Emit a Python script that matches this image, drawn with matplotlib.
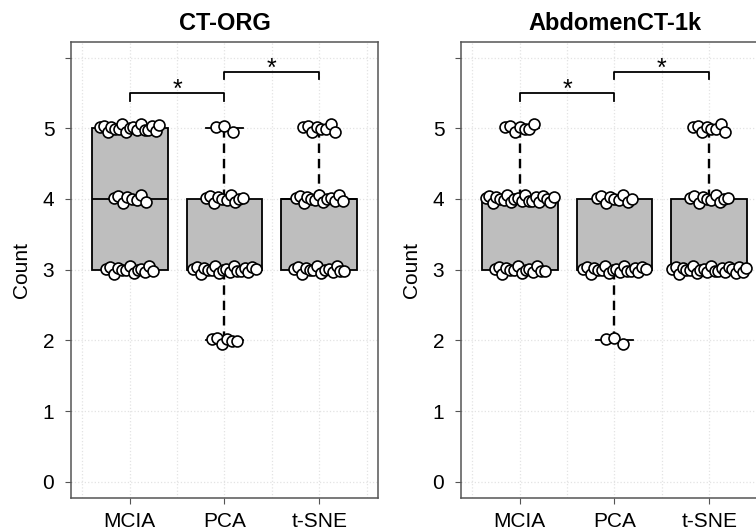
import numpy as np
import matplotlib
matplotlib.use("Agg")
import matplotlib.pyplot as plt

plt.rcParams['font.family'] = ['Liberation Sans', 'DejaVu Sans']

methods = ['MCIA', 'PCA', 't-SNE']
levels = [2, 3, 4, 5]

# number of cases at each count level (2, 3, 4, 5), per method
ctorg_counts = {
    'MCIA': [0, 13, 8, 17],
    'PCA': [6, 18, 10, 3],
    't-SNE': [0, 14, 13, 8],
}
abdomen_counts = {
    'MCIA': [0, 14, 20, 7],
    'PCA': [3, 18, 9, 0],
    't-SNE': [0, 22, 10, 8],
}
# significance brackets: (from, to, height)
brackets = [(1, 2, 5.5), (2, 3, 5.8)]


def expand(counts):
    return np.repeat(levels, counts).astype(float)


def draw_panel(ax, counts, title):
    data = [expand(counts[m]) for m in methods]
    pos = np.arange(1, len(methods) + 1)
    ax.boxplot(data, positions=pos, widths=0.8, patch_artist=True,
               showfliers=False, whis=1.5,
               boxprops=dict(facecolor='#bebebe', edgecolor='black', linewidth=1.3),
               medianprops=dict(color='black', linewidth=1.3),
               whiskerprops=dict(color='black', linewidth=1.7, linestyle=(0, (4, 2.5))),
               capprops=dict(color='black', linewidth=1.3),
               capwidths=0.4, zorder=2)

    # beeswarm-like spread of points around each level
    for p, m in zip(pos, methods):
        for lev, n in zip(levels, counts[m]):
            if n == 0:
                continue
            half = min(0.46, 0.016 * n + 0.04)
            dx = np.linspace(-half, half, n)
            idx = np.arange(n)
            dy = 0.045 * np.sin(idx * 2.4) + 0.015 * np.cos(idx * 5.1)
            ax.scatter(p + dx, lev + dy, s=62, facecolor='white',
                       edgecolor='black', linewidth=1.2, zorder=3)

    for a, b, h in brackets:
        ax.plot([a, a, b, b], [h - 0.11, h, h, h - 0.11], color='black',
                linewidth=1.3, zorder=4)
        ax.text((a + b) / 2, h - 0.13, '*', ha='center', va='bottom',
                fontsize=18)

    ax.set_xlim(0.38, 3.62)
    ax.set_ylim(-0.23, 6.22)
    ax.set_xticks(pos)
    ax.set_xticklabels(methods, fontsize=15)
    ax.set_xticks([0.5, 1.5, 2.5, 3.5], minor=True)
    ax.set_yticks(range(7))
    ax.set_yticklabels(['0', '1', '2', '3', '4', '5', ''], fontsize=15)
    ax.tick_params(axis='both', which='major', length=4, color='#555555', pad=8)
    ax.tick_params(axis='x', which='major', pad=6)
    ax.tick_params(axis='x', which='minor', length=0)
    ax.grid(which='major', color='#e3e3e3', linestyle=':', linewidth=0.9)
    ax.grid(which='minor', axis='x', color='#e3e3e3', linestyle=':', linewidth=0.9)
    ax.set_axisbelow(True)
    for s in ax.spines.values():
        s.set_color('#555555')
        s.set_linewidth(1.1)
    ax.set_ylabel('Count', fontsize=15, labelpad=8)
    ax.set_title(title, fontsize=17, fontweight='bold', pad=9)


fig = plt.figure(figsize=(7.56, 5.31), dpi=100)
ax1 = fig.add_axes([0.0939, 0.0621, 0.406, 0.8588])
ax2 = fig.add_axes([0.6098, 0.0621, 0.406, 0.8588])
draw_panel(ax1, ctorg_counts, 'CT-ORG')
draw_panel(ax2, abdomen_counts, 'AbdomenCT-1k')
fig.savefig('out.png', dpi=100)
